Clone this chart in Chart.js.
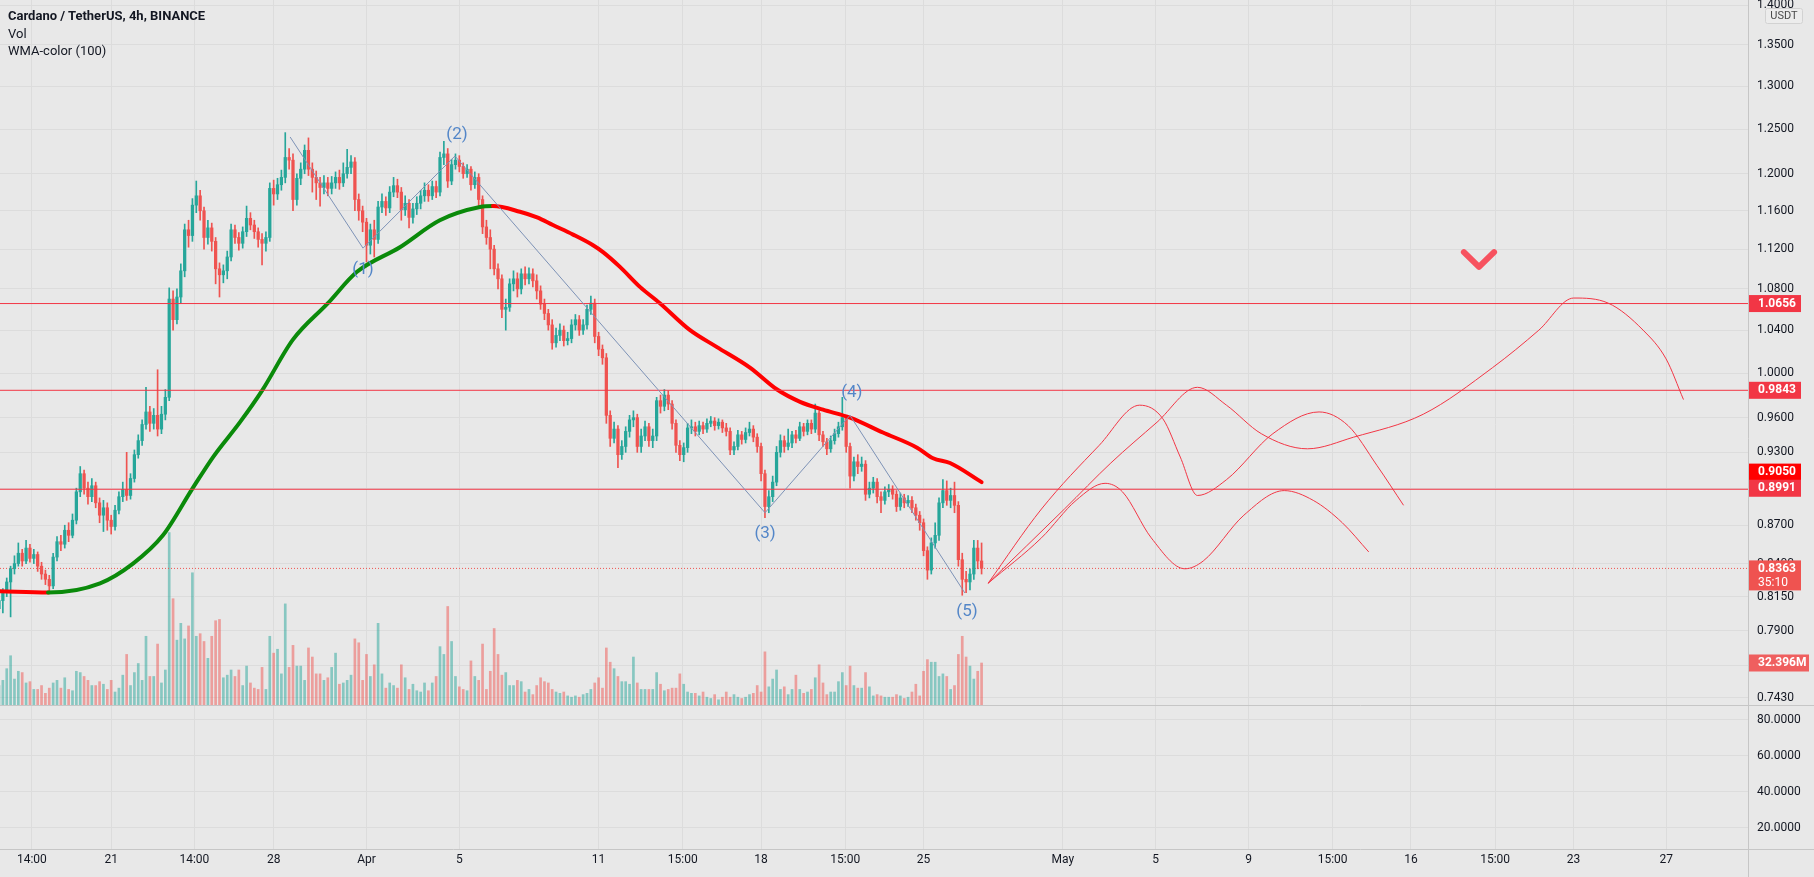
<!DOCTYPE html>
<html>
<head>
<meta charset="utf-8">
<title>ADA/USDT 4h</title>
<script src="https://cdn.jsdelivr.net/npm/chart.js@4.4.1/dist/chart.umd.min.js"></script>
<style>
  html, body { margin: 0; padding: 0; background: #e8e8e8; }
  #wrap { position: relative; width: 1814px; height: 877px; overflow: hidden; }
  #chart { display: block; }
  .legend {
    position: absolute; left: 8px; top: 7px;
    font-family: Roboto, "Open Sans", sans-serif; font-size: 13px;
    line-height: 17.5px; color: #131722;
  }
  .legend .sym { font-weight: bold; }
</style>
</head>
<body>
<div id="wrap">
  <canvas id="chart" width="1814" height="877"></canvas>
  <div class="legend">
    <div class="sym">Cardano / TetherUS, 4h, BINANCE</div>
    <div>Vol</div>
    <div>WMA-color (100)</div>
  </div>
</div>
<script>
// time is measured in days since Mar 1 00:00
var FIRST_CANDLE = 15 + 4 / 24;   // Mar 16 04:00
var CANDLE_STEP = 4 / 24;         // 4h candles
var FIRST_OPEN = 0.806;

var CLOSES = [
  0.812, 0.818, 0.826, 0.836, 0.840, 0.848, 0.842, 0.852, 0.844, 0.847,
  0.838, 0.832, 0.828, 0.823, 0.845, 0.857, 0.855, 0.866, 0.862, 0.874,
  0.897, 0.912, 0.900, 0.893, 0.902, 0.888, 0.878, 0.884, 0.874, 0.869,
  0.882, 0.893, 0.899, 0.894, 0.908, 0.928, 0.940, 0.954, 0.965, 0.955,
  0.962, 0.950, 0.963, 0.978, 1.070, 1.050, 1.072, 1.098, 1.140, 1.134,
  1.166, 1.176, 1.160, 1.132, 1.142, 1.128, 1.100, 1.094, 1.098, 1.112,
  1.140, 1.132, 1.126, 1.138, 1.152, 1.145, 1.138, 1.130, 1.126, 1.132,
  1.184, 1.178, 1.188, 1.196, 1.218, 1.215, 1.172, 1.195, 1.205, 1.226,
  1.205, 1.196, 1.190, 1.185, 1.190, 1.184, 1.190, 1.196, 1.190, 1.200,
  1.207, 1.213, 1.172, 1.160, 1.148, 1.124, 1.140, 1.130, 1.164, 1.170,
  1.163, 1.180, 1.187, 1.180, 1.161, 1.168, 1.153, 1.162, 1.168, 1.176,
  1.182, 1.176, 1.186, 1.180, 1.218, 1.222, 1.192, 1.210, 1.215, 1.208,
  1.200, 1.205, 1.188, 1.196, 1.172, 1.143, 1.132, 1.120, 1.100, 1.090,
  1.060, 1.062, 1.085, 1.090, 1.080, 1.095, 1.090, 1.095, 1.088, 1.078,
  1.065, 1.056, 1.045, 1.028, 1.035, 1.040, 1.030, 1.032, 1.045, 1.050,
  1.040, 1.045, 1.060, 1.066, 1.034, 1.022, 1.014, 0.962, 0.942, 0.950,
  0.928, 0.935, 0.948, 0.958, 0.960, 0.935, 0.944, 0.952, 0.940, 0.944,
  0.975, 0.970, 0.980, 0.972, 0.955, 0.936, 0.928, 0.934, 0.951, 0.952,
  0.948, 0.953, 0.950, 0.955, 0.957, 0.953, 0.956, 0.951, 0.948, 0.932,
  0.935, 0.945, 0.941, 0.947, 0.950, 0.943, 0.935, 0.912, 0.885, 0.893,
  0.905, 0.930, 0.940, 0.935, 0.938, 0.945, 0.942, 0.952, 0.948, 0.955,
  0.950, 0.964, 0.945, 0.939, 0.933, 0.940, 0.946, 0.952, 0.960, 0.935,
  0.910, 0.922, 0.918, 0.920, 0.895, 0.900, 0.905, 0.893, 0.890, 0.897,
  0.899, 0.895, 0.885, 0.892, 0.888, 0.890, 0.884, 0.878, 0.872, 0.850,
  0.835, 0.856, 0.862, 0.888, 0.898, 0.890, 0.894, 0.886, 0.843, 0.828,
  0.826, 0.832, 0.852, 0.842, 0.8363
];

var HIGHS = [
  0.815, 0.821, 0.829, 0.838, 0.846, 0.856, 0.851, 0.858, 0.855, 0.851,
  0.849, 0.841, 0.835, 0.831, 0.848, 0.861, 0.862, 0.870, 0.872, 0.879,
  0.900, 0.918, 0.915, 0.905, 0.908, 0.905, 0.892, 0.890, 0.888, 0.878,
  0.886, 0.897, 0.905, 0.930, 0.912, 0.932, 0.945, 0.958, 0.987, 0.970,
  0.968, 1.003, 0.970, 0.985, 1.081, 1.078, 1.080, 1.105, 1.146, 1.150,
  1.173, 1.192, 1.182, 1.164, 1.150, 1.147, 1.132, 1.106, 1.104, 1.118,
  1.146, 1.145, 1.137, 1.143, 1.165, 1.158, 1.150, 1.142, 1.136, 1.138,
  1.190, 1.193, 1.195, 1.204, 1.246, 1.228, 1.222, 1.200, 1.212, 1.232,
  1.240, 1.212, 1.203, 1.196, 1.198, 1.196, 1.197, 1.202, 1.204, 1.212,
  1.227, 1.220, 1.218, 1.178, 1.165, 1.152, 1.146, 1.150, 1.170, 1.178,
  1.175, 1.186, 1.196, 1.194, 1.185, 1.176, 1.172, 1.168, 1.175, 1.182,
  1.190, 1.188, 1.192, 1.192, 1.224, 1.236, 1.228, 1.216, 1.222, 1.220,
  1.212, 1.210, 1.208, 1.202, 1.200, 1.176, 1.150, 1.140, 1.124, 1.105,
  1.094, 1.070, 1.090, 1.098, 1.096, 1.100, 1.102, 1.101, 1.100, 1.094,
  1.083, 1.070, 1.060, 1.050, 1.042, 1.046, 1.044, 1.038, 1.050, 1.055,
  1.054, 1.050, 1.064, 1.073, 1.070, 1.038, 1.026, 1.018, 0.966, 0.956,
  0.953, 0.940, 0.952, 0.962, 0.966, 0.963, 0.950, 0.957, 0.955, 0.950,
  0.978, 0.980, 0.985, 0.984, 0.975, 0.958, 0.940, 0.938, 0.955, 0.958,
  0.956, 0.957, 0.956, 0.959, 0.961, 0.960, 0.959, 0.958, 0.955, 0.951,
  0.939, 0.949, 0.948, 0.951, 0.956, 0.953, 0.946, 0.938, 0.915, 0.898,
  0.910, 0.935, 0.945, 0.944, 0.950, 0.948, 0.949, 0.956, 0.955, 0.958,
  0.958, 0.972, 0.966, 0.948, 0.942, 0.944, 0.950, 0.956, 0.978, 0.962,
  0.938, 0.926, 0.928, 0.926, 0.923, 0.905, 0.909, 0.908, 0.897, 0.901,
  0.903, 0.902, 0.898, 0.896, 0.895, 0.894, 0.893, 0.887, 0.881, 0.875,
  0.853, 0.860, 0.872, 0.892, 0.907, 0.906, 0.900, 0.905, 0.889, 0.848,
  0.834, 0.836, 0.858, 0.858, 0.856
];

var LOWS = [
  0.800, 0.803, 0.815, 0.800, 0.832, 0.838, 0.838, 0.840, 0.841, 0.840,
  0.834, 0.828, 0.824, 0.817, 0.821, 0.842, 0.850, 0.852, 0.857, 0.860,
  0.871, 0.893, 0.895, 0.887, 0.889, 0.884, 0.872, 0.865, 0.866, 0.863,
  0.866, 0.879, 0.889, 0.890, 0.891, 0.905, 0.925, 0.936, 0.950, 0.948,
  0.950, 0.944, 0.946, 0.958, 0.975, 1.040, 1.046, 1.066, 1.092, 1.122,
  1.128, 1.158, 1.150, 1.120, 1.125, 1.118, 1.085, 1.072, 1.086, 1.090,
  1.108, 1.126, 1.119, 1.121, 1.133, 1.140, 1.131, 1.122, 1.104, 1.118,
  1.128, 1.166, 1.172, 1.182, 1.190, 1.205, 1.160, 1.166, 1.188, 1.200,
  1.198, 1.180, 1.172, 1.165, 1.178, 1.176, 1.178, 1.184, 1.183, 1.186,
  1.195, 1.200, 1.160, 1.150, 1.138, 1.107, 1.115, 1.112, 1.126, 1.158,
  1.155, 1.158, 1.175, 1.174, 1.150, 1.155, 1.142, 1.147, 1.156, 1.162,
  1.170, 1.170, 1.172, 1.174, 1.176, 1.210, 1.185, 1.188, 1.205, 1.202,
  1.195, 1.196, 1.182, 1.184, 1.165, 1.136, 1.125, 1.100, 1.094, 1.080,
  1.052, 1.040, 1.058, 1.078, 1.072, 1.075, 1.084, 1.085, 1.082, 1.070,
  1.060, 1.050, 1.040, 1.022, 1.024, 1.030, 1.025, 1.026, 1.028, 1.040,
  1.035, 1.036, 1.041, 1.055, 1.028, 1.016, 1.008, 0.955, 0.935, 0.938,
  0.917, 0.924, 0.930, 0.943, 0.952, 0.930, 0.930, 0.940, 0.935, 0.934,
  0.940, 0.964, 0.966, 0.967, 0.950, 0.930, 0.923, 0.922, 0.930, 0.946,
  0.944, 0.945, 0.946, 0.947, 0.952, 0.949, 0.950, 0.947, 0.944, 0.928,
  0.928, 0.932, 0.937, 0.938, 0.944, 0.939, 0.930, 0.906, 0.876, 0.880,
  0.889, 0.902, 0.926, 0.930, 0.932, 0.934, 0.938, 0.940, 0.944, 0.945,
  0.946, 0.947, 0.940, 0.935, 0.928, 0.930, 0.937, 0.943, 0.949, 0.930,
  0.900, 0.906, 0.912, 0.914, 0.890, 0.892, 0.896, 0.888, 0.880, 0.887,
  0.893, 0.891, 0.881, 0.882, 0.884, 0.885, 0.880, 0.874, 0.866, 0.846,
  0.828, 0.832, 0.852, 0.858, 0.884, 0.886, 0.884, 0.880, 0.838, 0.816,
  0.818, 0.820, 0.828, 0.836, 0.832
];

// volume in millions of ADA
var VOLUMES = [
  15, 19, 28, 38, 20, 26, 25, 17, 18, 12,
  12, 15, 9, 13, 17, 19, 13, 21, 12, 11,
  26, 25, 22, 19, 15, 15, 18, 16, 12, 19,
  10, 13, 23, 39, 15, 25, 32, 19, 53, 22,
  22, 47, 17, 27, 133, 82, 50, 63, 51, 61,
  102, 53, 55, 49, 36, 53, 65, 66, 21, 23,
  27, 22, 27, 15, 30, 17, 13, 12, 29, 12,
  53, 40, 43, 24, 78, 29, 46, 30, 30, 19,
  44, 37, 24, 24, 19, 21, 29, 40, 16, 17,
  19, 23, 51, 48, 19, 39, 22, 31, 63, 24,
  13, 17, 15, 13, 31, 21, 12, 16, 11, 10,
  17, 11, 17, 22, 45, 39, 76, 49, 22, 14,
  12, 11, 34, 22, 19, 47, 12, 26, 59, 39,
  23, 25, 15, 15, 19, 18, 10, 12, 8, 15,
  21, 18, 17, 12, 10, 9, 10, 7, 6, 7,
  6, 8, 9, 12, 17, 21, 13, 44, 33, 28,
  22, 18, 18, 16, 37, 17, 12, 12, 12, 12,
  25, 16, 11, 12, 13, 13, 24, 16, 10, 9,
  9, 7, 10, 6, 5, 8, 4, 6, 10, 6,
  8, 6, 5, 6, 8, 9, 15, 10, 41, 14,
  20, 27, 12, 14, 8, 12, 23, 12, 9, 10,
  12, 21, 31, 17, 8, 10, 10, 18, 25, 15,
  30, 15, 13, 13, 25, 14, 7, 8, 7, 6,
  6, 6, 8, 7, 5, 6, 10, 16, 7, 26,
  35, 33, 33, 22, 24, 22, 12, 15, 39, 53,
  37, 30, 20, 26, 32.396
];

var WMA_DAYS = [
  15.21, 17.28, 19.52, 20.94, 22.23, 23.48, 24.39, 25.55, 26.50, 27.83,
  29.34, 30.59, 32.44, 34.16, 35.89, 36.45, 37.61, 38.35, 39.03, 39.90,
  40.76, 41.19, 41.92, 42.78, 43.64, 44.94, 46.10, 47.52, 48.69, 49.68,
  50.67, 51.83, 53.25, 54.72, 55.41, 56.14, 57.50
];
var WMA_VALUES = [
  0.819, 0.818, 0.825, 0.840, 0.862, 0.899, 0.926, 0.956, 0.984, 1.031,
  1.066, 1.097, 1.122, 1.150, 1.164, 1.165, 1.159, 1.153, 1.145, 1.135,
  1.124, 1.117, 1.102, 1.082, 1.066, 1.040, 1.024, 1.005, 0.985, 0.974,
  0.967, 0.960, 0.947, 0.934, 0.925, 0.921, 0.905
];
var WMA_LAST = 0.9050;

var WAVE_DAYS = [27.71, 30.85, 34.81, 48.17, 51.83, 56.78];
var WAVE_PRICES = [1.241, 1.121, 1.2196, 0.880, 0.962, 0.8177];
var WAVE_LABELS = ["(1)", "(2)", "(3)", "(4)", "(5)"];
var WAVE_LABEL_DAYS = [30.85, 34.90, 48.17, 51.91, 56.87];
var WAVE_LABEL_PRICES = [1.099, 1.243, 0.863, 0.982, 0.804];

var LEVELS = [1.0656, 0.9843, 0.8991];
var LAST_PRICE = 0.8363;
var LAST_VOLUME = 32.396;
var COUNTDOWN = "35:10";

var PATH_A_DAYS = [57.78, 60.08, 62.57, 64.31, 65.31, 66.06, 66.80, 68.05, 70.05, 72.04, 73.29, 74.53, 75.68];
var PATH_A_PRICES = [0.825, 0.883, 0.936, 0.971, 0.959, 0.926, 0.894, 0.907, 0.946, 0.965, 0.953, 0.919, 0.886];
var PATH_B_DAYS = [57.78, 61.07, 63.07, 65.06, 66.80, 68.05, 69.55, 71.54, 73.53, 76.53, 79.52, 81.51, 83.01, 84.50, 86.00, 86.99, 87.74];
var PATH_B_PRICES = [0.825, 0.883, 0.921, 0.956, 0.987, 0.971, 0.946, 0.933, 0.943, 0.963, 1.005, 1.040, 1.071, 1.066, 1.040, 1.013, 0.976];
var PATH_C_DAYS = [57.78, 60.08, 61.57, 62.82, 63.57, 64.81, 66.26, 67.05, 68.80, 70.54, 71.79, 73.04, 74.18];
var PATH_C_PRICES = [0.825, 0.860, 0.890, 0.904, 0.897, 0.860, 0.836, 0.842, 0.878, 0.898, 0.890, 0.872, 0.849];

var CHECK_DAYS = [78.28, 78.93, 79.58];
var CHECK_PRICES = [1.117, 1.102, 1.117];

var PRICE_TICKS = [1.4, 1.35, 1.3, 1.25, 1.2, 1.16, 1.12, 1.08, 1.04, 1.0, 0.96, 0.93, 0.9, 0.87, 0.84, 0.815, 0.79, 0.765, 0.743];
var PANE_TICKS = [80, 60, 40, 20];
var X_TICK_DAYS = [16.583, 20, 23.583, 27, 31, 35, 41, 44.625, 48, 51.625, 55, 61, 65, 69, 72.625, 76, 79.625, 83, 87];
var X_TICK_LABELS = ["14:00", "21", "14:00", "28", "Apr", "5", "11", "15:00", "18", "15:00", "25", "May", "5", "9", "15:00", "16", "15:00", "23", "27"];

var X_MIN = 15.21, X_MAX = 90.52;
var PRICE_MIN = 0.73805, PRICE_MAX = 1.40673;

var UP = "#26a69a", DOWN = "#ef5350";
var UP_VOL = "rgba(38, 166, 154, 0.5)", DOWN_VOL = "rgba(239, 83, 80, 0.5)";
var FONT = "Roboto, 'Open Sans', sans-serif";

function candleDay(i) { return FIRST_CANDLE + i * CANDLE_STEP; }
function openAt(i) { return i === 0 ? FIRST_OPEN : CLOSES[i - 1]; }
function pairs(xs, ys) { return xs.map(function (x, i) { return { x: x, y: ys[i] }; }); }
function hline(v) { return [{ x: X_MIN, y: v }, { x: X_MAX, y: v }]; }

var isUp = CLOSES.map(function (c, i) { return c >= openAt(i); });

var bodies = CLOSES.map(function (c, i) { return { x: candleDay(i), y: [openAt(i), c] }; });
var wicks = CLOSES.map(function (c, i) { return { x: candleDay(i), y: [LOWS[i], HIGHS[i]] }; });
var vols = VOLUMES.map(function (v, i) { return { x: candleDay(i), y: v }; });

var datasets = [
  {
    type: "bar", label: "Vol", data: vols, yAxisID: "yVol", order: 10,
    backgroundColor: isUp.map(function (u) { return u ? UP_VOL : DOWN_VOL; }),
    barThickness: 2, grouped: false, borderWidth: 0
  },
  {
    type: "bar", label: "wicks", data: wicks, yAxisID: "y", order: 6,
    backgroundColor: isUp.map(function (u) { return u ? UP : DOWN; }),
    barThickness: 1, grouped: false, borderWidth: 0
  },
  {
    type: "bar", label: "bodies", data: bodies, yAxisID: "y", order: 5,
    backgroundColor: isUp.map(function (u) { return u ? UP : DOWN; }),
    barThickness: 2.6, grouped: false, borderWidth: 0, minBarLength: 1
  },
  {
    type: "line", label: "last", data: hline(LAST_PRICE), yAxisID: "y", order: 7,
    borderColor: DOWN, borderWidth: 1, borderDash: [1, 2], pointRadius: 0
  },
  {
    type: "line", label: "WMA-color (100)", data: pairs(WMA_DAYS, WMA_VALUES), yAxisID: "y", order: 3,
    borderWidth: 4, pointRadius: 0, cubicInterpolationMode: "monotone",
    borderCapStyle: "round", borderJoinStyle: "round",
    segment: {
      borderColor: function (ctx) { return ctx.p1.parsed.y < ctx.p0.parsed.y ? "#ff0000" : "#0a8a0a"; }
    }
  },
  {
    type: "line", label: "waves", data: pairs(WAVE_DAYS, WAVE_PRICES), yAxisID: "y", order: 2,
    borderColor: "#7d92b6", borderWidth: 1, pointRadius: 0, tension: 0
  }
];

LEVELS.forEach(function (lv) {
  datasets.push({
    type: "line", data: hline(lv), yAxisID: "y", order: 2,
    borderColor: "#f23645", borderWidth: 1, pointRadius: 0
  });
});

[[PATH_A_DAYS, PATH_A_PRICES], [PATH_B_DAYS, PATH_B_PRICES], [PATH_C_DAYS, PATH_C_PRICES]].forEach(function (p) {
  datasets.push({
    type: "line", data: pairs(p[0], p[1]), yAxisID: "y", order: 2,
    borderColor: "#f23645", borderWidth: 1, pointRadius: 0, cubicInterpolationMode: "monotone"
  });
});

datasets.push({
  type: "line", data: pairs(CHECK_DAYS, CHECK_PRICES), yAxisID: "y", order: 1,
  borderColor: "#f7525f", borderWidth: 6, pointRadius: 0,
  borderCapStyle: "round", borderJoinStyle: "round"
});

var waveLabels = {
  id: "waveLabels",
  afterDatasetsDraw: function (chart) {
    var ctx = chart.ctx, sx = chart.scales.x, sy = chart.scales.y;
    ctx.save();
    ctx.font = "17px " + FONT;
    ctx.fillStyle = "#5386c8";
    ctx.textAlign = "center";
    ctx.textBaseline = "middle";
    for (var i = 0; i < WAVE_LABELS.length; i++) {
      ctx.fillText(WAVE_LABELS[i], sx.getPixelForValue(WAVE_LABEL_DAYS[i]), sy.getPixelForValue(WAVE_LABEL_PRICES[i]));
    }
    ctx.restore();
  }
};

var paneFrame = {
  id: "paneFrame",
  afterDraw: function (chart) {
    var ctx = chart.ctx, area = chart.chartArea;
    var sep = Math.round(chart.scales.y.bottom) + 0.5;
    var bottom = Math.round(area.bottom) + 0.5;
    var right = Math.round(area.right) + 0.5;
    ctx.save();
    ctx.strokeStyle = "#c6c6c6";
    ctx.lineWidth = 1;
    ctx.beginPath();
    ctx.moveTo(0, sep); ctx.lineTo(chart.width, sep);
    ctx.moveTo(0, bottom); ctx.lineTo(chart.width, bottom);
    ctx.moveTo(right, 0); ctx.lineTo(right, chart.height);
    ctx.stroke();
    ctx.restore();
  }
};

function drawTag(ctx, x, yc, w, lines, color) {
  var h = lines.length > 1 ? 30 : 17;
  var top = lines.length > 1 ? yc - 8 : yc - h / 2;
  ctx.fillStyle = color;
  ctx.fillRect(x, top, w, h);
  ctx.fillStyle = "#ffffff";
  ctx.textAlign = "left";
  ctx.textBaseline = "middle";
  ctx.font = "bold 12px " + FONT;
  ctx.fillText(lines[0], x + 9, top + 8.5);
  if (lines.length > 1) {
    ctx.font = "12px " + FONT;
    ctx.fillText(lines[1], x + 9, top + 22.5);
  }
}

var priceTags = {
  id: "priceTags",
  afterDraw: function (chart) {
    var ctx = chart.ctx, sy = chart.scales.y, sv = chart.scales.yVol;
    var x = Math.round(chart.chartArea.right) + 1;
    ctx.save();
    drawTag(ctx, x, sy.getPixelForValue(LEVELS[0]), 52, [LEVELS[0].toFixed(4)], "#f23645");
    drawTag(ctx, x, sy.getPixelForValue(LEVELS[1]), 52, [LEVELS[1].toFixed(4)], "#f23645");
    drawTag(ctx, x, sy.getPixelForValue(WMA_LAST) - 10, 52, [WMA_LAST.toFixed(4)], "#ff0000");
    drawTag(ctx, x, sy.getPixelForValue(LEVELS[2]) - 1, 52, [LEVELS[2].toFixed(4)], "#f23645");
    drawTag(ctx, x, sy.getPixelForValue(LAST_PRICE), 52, [LAST_PRICE.toFixed(4), COUNTDOWN], "#ef5350");
    drawTag(ctx, x, sv.getPixelForValue(LAST_VOLUME), 60, [LAST_VOLUME.toFixed(3) + "M"], "#ef5f5f");

    // currency badge
    ctx.fillStyle = "#ececec";
    ctx.strokeStyle = "#d2d2d2";
    ctx.lineWidth = 1;
    ctx.beginPath();
    ctx.roundRect(1765.5, 8.5, 37, 15, 2);
    ctx.fill();
    ctx.stroke();
    ctx.fillStyle = "#4a4a4a";
    ctx.font = "11px " + FONT;
    ctx.textAlign = "center";
    ctx.textBaseline = "middle";
    ctx.fillText("USDT", 1784, 16.5);
    ctx.restore();
  }
};

// keep tick labels from pushing the plot area inwards
function noLabelPadding(s) {
  s.paddingTop = 0; s.paddingBottom = 0; s.paddingLeft = 0; s.paddingRight = 0;
}

var GRID = "#dcdcdc";
var TICK_FONT = { family: FONT, size: 12 };

new Chart(document.getElementById("chart"), {
  type: "bar",
  data: { datasets: datasets },
  options: {
    responsive: false,
    maintainAspectRatio: false,
    animation: false,
    devicePixelRatio: 1,
    layout: { padding: 0, autoPadding: false },
    plugins: { legend: { display: false }, tooltip: { enabled: false } },
    scales: {
      x: {
        type: "linear", min: X_MIN, max: X_MAX, bounds: "data", offset: false,
        afterBuildTicks: function (s) { s.ticks = X_TICK_DAYS.map(function (d) { return { value: d }; }); },
        afterFit: function (s) { s.height = 28; noLabelPadding(s); },
        ticks: {
          autoSkip: false, maxRotation: 0, padding: 4, color: "#131722", font: TICK_FONT,
          callback: function (v, i) { return X_TICK_LABELS[i]; }
        },
        grid: { color: GRID, drawTicks: false, offset: false },
        border: { display: false }
      },
      y: {
        type: "logarithmic", position: "right", stack: "pane", stackWeight: 705,
        min: PRICE_MIN, max: PRICE_MAX, bounds: "data",
        afterBuildTicks: function (s) { s.ticks = PRICE_TICKS.map(function (v) { return { value: v }; }); },
        afterFit: function (s) { s.width = 66; noLabelPadding(s); },
        ticks: {
          autoSkip: false, padding: 9, color: "#131722", font: TICK_FONT,
          callback: function (v) { return Number(v).toFixed(4); }
        },
        grid: { color: GRID, drawTicks: false },
        border: { display: false }
      },
      yLow: {
        type: "linear", position: "right", stack: "pane", stackWeight: 144,
        min: 8.33, max: 88.33, bounds: "data",
        afterBuildTicks: function (s) { s.ticks = PANE_TICKS.map(function (v) { return { value: v }; }); },
        afterFit: function (s) { s.width = 66; noLabelPadding(s); },
        ticks: {
          autoSkip: false, padding: 9, color: "#131722", font: TICK_FONT,
          callback: function (v) { return Number(v).toFixed(4); }
        },
        grid: { color: GRID, drawTicks: false },
        border: { display: false }
      },
      yVol: {
        type: "linear", display: false, min: -111.1, max: 543.9
      }
    }
  },
  plugins: [paneFrame, waveLabels, priceTags]
});
</script>
</body>
</html>
